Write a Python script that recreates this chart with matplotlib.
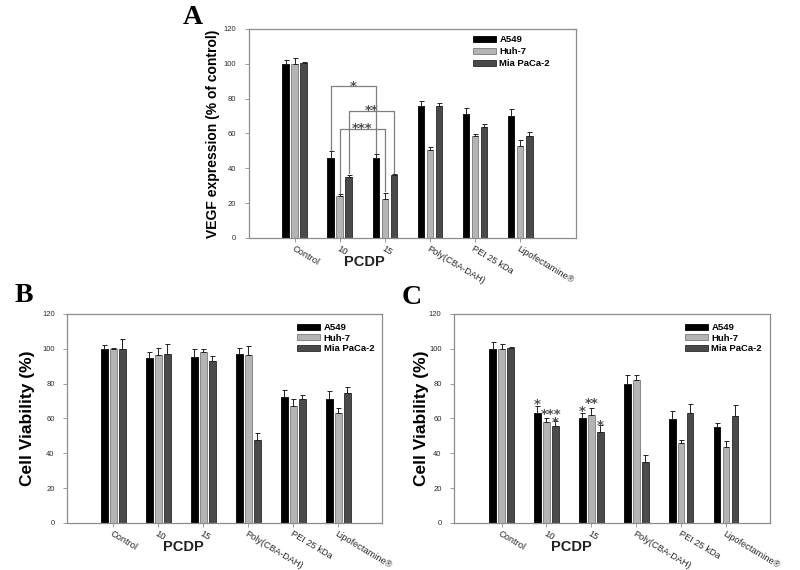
import numpy as np
import matplotlib
matplotlib.use("Agg")
import matplotlib.pyplot as plt

plt.rcParams['font.family'] = ['Liberation Sans', 'DejaVu Sans']

groups = ["Control", "10", "15", "Poly(CBA-DAH)", "PEI 25 kDa", "Lipofectamine®"]
series = ["A549", "Huh-7", "Mia PaCa-2"]

# panel A - VEGF expression (% of control)
vegf_a549 = [100, 46, 46, 75.5, 71, 70]
vegf_a549_err = [2, 4, 2, 3, 3.5, 3.8]
vegf_huh7 = [100, 24, 22.6, 50.5, 58.5, 53]
vegf_huh7_err = [3.5, 1, 3, 1.5, 1, 3.5]
vegf_mia = [100.5, 35, 36, 76, 63.7, 58.8]
vegf_mia_err = [0.5, 1, 0.5, 1.5, 2, 2.3]

# panel B - cell viability (%)
viab_b_a549 = [100, 94.6, 95.5, 97, 72.6, 71]
viab_b_a549_err = [2, 3.5, 4.5, 3.5, 4, 5]
viab_b_huh7 = [100, 96.5, 98, 96.7, 66.9, 63]
viab_b_huh7_err = [0.5, 4, 2, 5, 4, 3]
viab_b_mia = [100, 97, 93, 47.4, 71, 74.5]
viab_b_mia_err = [5.5, 6, 3, 4.5, 2.5, 3.8]

# panel C - cell viability (%)
viab_c_a549 = [100, 63.4, 60.2, 79.7, 59.6, 55]
viab_c_a549_err = [4, 4, 3, 5, 4.5, 2.3]
viab_c_huh7 = [100, 57.7, 62, 81.8, 45.9, 43.6]
viab_c_huh7_err = [2.5, 2.5, 4, 3, 1.5, 3.2]
viab_c_mia = [100.5, 55.4, 52, 34.8, 63.4, 61.5]
viab_c_mia_err = [0.5, 3, 4, 4, 4.8, 6.3]

# significance brackets in A: (group1, group2, series, top, left end, right end, label)
brackets_a = [(1, 2, 0, 87, 50.5, 48.5, "*"),
              (1, 2, 2, 73, 37.5, 37.5, "**"),
              (1, 2, 1, 62.6, 26, 27, "***")]
# stars in C: (group, series position, y, label)
stars_c = [(1, 0, 70.7, "*"), (1, 1.5, 64.9, "***"), (1, 2, 60.3, "*"),
           (2, 0, 66.6, "*"), (2, 1, 71.2, "**"), (2, 2, 58.6, "*")]

colors = ["#000000", "#b4b4b4", "#4a4a4a"]
edges = ["#000000", "#7a7a7a", "#2a2a2a"]
width = 0.15
offs = [-0.2, 0.0, 0.2]
spine_col = "#8c8c8c"
star_font = dict(fontsize=9.5, fontweight='bold', family='DejaVu Sans', color="#505050")


def draw_panel(ax, vals, errs, xlim, ylabel, ylab_fs, ylab_x, leg_anchor, leg_space):
    x = np.arange(len(groups))
    for i in range(3):
        ax.bar(x + offs[i], vals[i], width, color=colors[i], edgecolor=edges[i],
               linewidth=0.6, label=series[i], zorder=2)
        ax.errorbar(x + offs[i], vals[i], yerr=[np.zeros(len(groups)), errs[i]],
                    fmt='none', ecolor="#222222", elinewidth=0.7, capsize=1.8,
                    capthick=0.7, zorder=3)
    ax.set_xlim(*xlim)
    ax.set_ylim(0, 120)
    ax.set_yticks(range(0, 121, 20))
    ax.set_xticks(x)
    ax.set_xticklabels(groups, rotation=-31, ha='left', rotation_mode='anchor',
                       fontsize=6.7, color="#2a2a2a")
    ax.tick_params(axis='y', labelsize=5.5, length=3, width=0.6, color=spine_col,
                   labelcolor="#2a2a2a", pad=6)
    ax.tick_params(axis='x', length=3, width=0.6, color=spine_col, pad=1.5)
    for s in ax.spines.values():
        s.set_color(spine_col)
        s.set_linewidth(0.9)
    ax.set_ylabel(ylabel, fontsize=ylab_fs, fontweight='bold')
    ax.yaxis.set_label_coords(ylab_x, 0.5)
    ax.text(1.55, -0.115, "PCDP", transform=ax.get_xaxis_transform(),
            ha='center', va='center', fontsize=10.5, fontweight='bold', color="#222222")
    ax.legend(loc='upper left', bbox_to_anchor=leg_anchor, frameon=False,
              prop=dict(size=6.8, weight='bold'), handlelength=2.4, handleheight=0.6,
              handletextpad=0.4, labelspacing=leg_space, borderpad=0, borderaxespad=0)


fig = plt.figure(figsize=(8, 5.7), dpi=100)
ax_a = fig.add_axes([0.311, 0.5825, 0.409, 0.3667])
ax_b = fig.add_axes([0.084, 0.0825, 0.394, 0.3667])
ax_c = fig.add_axes([0.5675, 0.0825, 0.395, 0.3667])

draw_panel(ax_a, [vegf_a549, vegf_huh7, vegf_mia],
           [vegf_a549_err, vegf_huh7_err, vegf_mia_err],
           (-1.02, 6.24), "VEGF expression (% of control)", 10, -0.089,
           (0.685, 0.97), 0.3)
draw_panel(ax_b, [viab_b_a549, viab_b_huh7, viab_b_mia],
           [viab_b_a549_err, viab_b_huh7_err, viab_b_mia_err],
           (-1.02, 5.98), "Cell Viability (%)", 12.5, -0.102,
           (0.73, 0.955), 0.15)
draw_panel(ax_c, [viab_c_a549, viab_c_huh7, viab_c_mia],
           [viab_c_a549_err, viab_c_huh7_err, viab_c_mia_err],
           (-1.06, 5.98), "Cell Viability (%)", 12.5, -0.078,
           (0.731, 0.955), 0.15)

# brackets in A
for g1, g2, s, top, yl, yr, lab in brackets_a:
    x1 = g1 + offs[s]
    x2 = g2 + offs[s]
    ax_a.plot([x1, x1, x2, x2], [yl, top, top, yr], color="#7f7f7f", lw=0.9, zorder=4)
    ax_a.annotate(lab, ((x1 + x2) / 2, top), xytext=(0, -2.5), textcoords='offset points',
                  ha='center', va='baseline', **star_font)

# stars in C
for g, s, y, lab in stars_c:
    xs = g - 0.2 + 0.2 * s
    ax_c.annotate(lab, (xs, y), xytext=(0, -6), textcoords='offset points',
                  ha='center', va='baseline', **star_font)

# panel letters
for lab, px, py in [("A", 193, 17), ("B", 24, 296), ("C", 412, 297)]:
    fig.text(px / 800, 1 - py / 570, lab, ha='center', va='center', fontsize=20,
             fontweight='bold', family='Liberation Serif')

fig.savefig("out.png", dpi=100)
